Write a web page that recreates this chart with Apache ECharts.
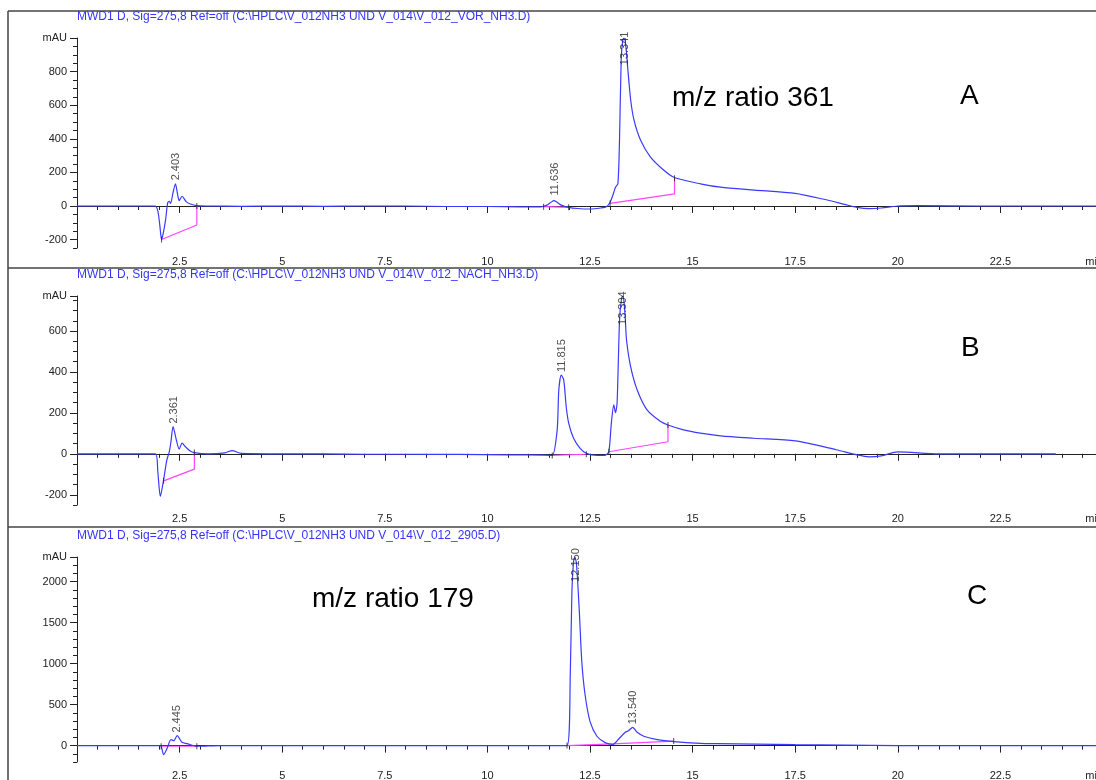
<!DOCTYPE html>
<html>
<head>
<meta charset="utf-8">
<script src="https://cdn.jsdelivr.net/npm/echarts@6/dist/echarts.min.js"></script>
<style>
  html, body { margin: 0; padding: 0; background: #fff; }
  #chart { width: 1096px; height: 780px; }
</style>
</head>
<body>
<div id="chart"></div>
<script>
var chart = echarts.init(document.getElementById('chart'));

// panel titles
var titles = [
  'MWD1 D, Sig=275,8 Ref=off (C:\\HPLC\\V_012NH3 UND V_014\\V_012_VOR_NH3.D)',
  'MWD1 D, Sig=275,8 Ref=off (C:\\HPLC\\V_012NH3 UND V_014\\V_012_NACH_NH3.D)',
  'MWD1 D, Sig=275,8 Ref=off (C:\\HPLC\\V_012NH3 UND V_014\\V_012_2905.D)'
];

// trace A (min, mAU)
var timeA = [0, 1.0, 1.9, 1.97, 2.02, 2.06, 2.10, 2.16, 2.21, 2.25, 2.28, 2.34, 2.40, 2.45, 2.49, 2.56, 2.66, 2.76, 2.92, 3.2, 4.0, 5.0, 6.0, 7.0, 8.0, 9.0, 10.0, 10.8, 11.3, 11.45, 11.55, 11.62, 11.7, 11.8, 11.98, 12.2, 12.5, 12.76, 12.9, 12.99, 13.08, 13.12, 13.18, 13.22, 13.26, 13.30, 13.33, 13.37, 13.42, 13.49, 13.57, 13.73, 13.97, 14.30, 14.57, 15.19, 15.68, 16.5, 17.5, 18.2, 18.7, 19.0, 19.3, 19.6, 20.0, 20.5, 22.0, 25.0];
var valA  = [0, 0, 0, -30, -120, -199, -165, -80, 20, 28, 15, 80, 132, 70, 32, 58, 26, 12, 2, 0, -2, 0, -2, 0, 0, -3, -3, -5, -5, 5, 22, 32, 22, 5, -8, -15, -18, -12, -5, 22, 80, 112, 132, 400, 870, 990, 1000, 960, 820, 634, 514, 393, 293, 213, 168, 132, 112, 95, 75, 40, 10, -8, -16, -12, 0, 2, 0, 0];

// trace B
var timeB = [0, 1.0, 1.91, 1.97, 2.03, 2.11, 2.19, 2.25, 2.29, 2.34, 2.42, 2.49, 2.56, 2.64, 2.75, 2.86, 3.2, 3.6, 3.78, 4.0, 5.0, 6.0, 7.0, 8.0, 9.3, 10.5, 11.4, 11.58, 11.70, 11.74, 11.80, 11.86, 11.92, 11.98, 12.10, 12.26, 12.41, 12.67, 12.88, 12.96, 13.02, 13.08, 13.12, 13.16, 13.22, 13.27, 13.30, 13.33, 13.36, 13.39, 13.49, 13.65, 13.89, 14.22, 14.40, 14.78, 15.19, 15.68, 16.5, 17.5, 18.5, 19.0, 19.3, 19.6, 20.0, 21.0, 22.5, 23.85];
var valB  = [0, 0, 0, -90, -208, -127, -29, 11, 60, 133, 68, 23, 52, 35, 15, 6, 0, 5, 16, 2, 0, 0, -2, -2, -3, -5, -6, -8, 117, 312, 385, 361, 231, 150, 76, 27, 3, -8, -6, 11, 150, 239, 201, 247, 654, 760, 771, 740, 660, 556, 426, 312, 215, 158, 141, 117, 101, 88, 76, 63, 20, -5, -15, -10, 10, 0, 0, 0];

// trace C
var timeC = [0, 1.0, 2.0, 2.05, 2.11, 2.19, 2.29, 2.36, 2.44, 2.56, 2.68, 2.92, 3.5, 5.0, 7.5, 10.0, 11.5, 11.94, 12.02, 12.06, 12.10, 12.13, 12.17, 12.24, 12.30, 12.38, 12.50, 12.67, 12.88, 13.06, 13.20, 13.36, 13.44, 13.54, 13.65, 13.81, 14.14, 14.54, 15.19, 15.60, 17.5, 20.0, 25.0];
var valC  = [0, 0, 0, -5, -110, -40, 73, 60, 122, 40, 24, -8, 0, 0, 0, 0, 0, 0, 884, 1898, 2250, 2300, 2220, 1634, 1026, 620, 296, 114, 33, 16, 81, 162, 182, 223, 162, 114, 73, 49, 28, 24, 12, 0, 0];

// peak labels [time, label anchor (mAU), text]
var peaksA = [[2.403, 135, '2.403'], [11.636, 45, '11.636'], [13.341, 820, '13.341']];
var peaksB = [[2.361, 133, '2.361'], [11.815, 385, '11.815'], [13.304, 615, '13.304']];
var peaksC = [[2.445, 122, '2.445'], [12.150, 1960, '12.150'], [13.540, 223, '13.540']];

// integration baselines
var baseA = [[[2.06, -199], [2.92, -113], [2.92, 0]], [[11.37, -4], [11.98, -8]], [[12.99, 16], [14.56, 72], [14.56, 165]]];
var baseB = [[[2.11, -132], [2.86, -75], [2.86, 6]], [[11.58, -8], [12.41, -2]], [[12.96, 10], [14.40, 59], [14.40, 141]]];
var baseC = [[[2.05, -8], [2.92, -8]], [[11.94, 0], [13.06, 22], [14.54, 55]]];

// axis ranges and tick labels
var timeLabels = [2.5, 5, 7.5, 10, 12.5, 15, 17.5, 20, 22.5, 25];
var yMin = [-250, -250, -200];
var yMax = [1000, 771, 2300];
var yStep = [50, 50, 100];
var yLabelsA = [-200, 0, 200, 400, 600, 800, 1000];
var yLabelsB = [-200, 0, 200, 400, 600, 771];
var yLabelsC = [0, 500, 1000, 1500, 2000, 2300];

var tops = [38, 296, 557];
var heights = [210, 209, 205];

var blue = '#3a3aff';
var magenta = '#ff44ff';
var ink = '#222';
var font = 'Liberation Sans, Arial';

function pairs(t, v) {
  return t.map(function (x, i) { return [x, v[i]]; });
}

var grids = [], xAxes = [], yAxes = [], series = [], titleOpts = [];
var traces = [pairs(timeA, valA), pairs(timeB, valB), pairs(timeC, valC)];
var peaks = [peaksA, peaksB, peaksC];
var bases = [baseA, baseB, baseC];
var yLabels = [yLabelsA, yLabelsB, yLabelsC];

for (var p = 0; p < 3; p++) {
  grids.push({ left: 77, top: tops[p], width: 1026, height: heights[p], containLabel: false, outerBoundsMode: 'none' });
  titleOpts.push({
    text: titles[p], left: 77, top: tops[p] - 27, padding: 0,
    textStyle: { fontSize: 12, fontWeight: 'normal', color: '#3535ff', fontFamily: font }
  });
  // minor ticks
  xAxes.push({
    type: 'value', gridIndex: p, min: 0, max: 25, interval: 0.5,
    axisLine: { lineStyle: { color: ink, width: 1 } },
    axisTick: { length: 4, lineStyle: { color: ink } },
    splitLine: { show: false },
    axisLabel: { show: false }
  });
  yAxes.push({
    type: 'value', gridIndex: p, min: yMin[p], max: yMax[p], interval: yStep[p],
    axisLine: { show: true, lineStyle: { color: ink, width: 1 } },
    axisTick: { show: true, length: 4, lineStyle: { color: ink } },
    splitLine: { show: false },
    axisLabel: { show: false }
  });

  series.push({
    type: 'line', xAxisIndex: p, yAxisIndex: p, data: traces[p],
    showSymbol: false, smooth: 0.25, lineStyle: { color: blue, width: 1.2 }, z: 3
  });
  bases[p].forEach(function (seg) {
    series.push({
      type: 'line', xAxisIndex: p, yAxisIndex: p, data: seg,
      showSymbol: false, lineStyle: { color: magenta, width: 1.2 }, z: 2
    });
    series.push({
      type: 'scatter', xAxisIndex: p, yAxisIndex: p, data: [seg[0], seg[seg.length - 1]],
      symbol: 'rect', symbolSize: [1, 6], itemStyle: { color: ink }, z: 4
    });
  });
  series.push({
    type: 'scatter', xAxisIndex: p, yAxisIndex: p, data: peaks[p],
    symbolSize: 0, z: 5,
    label: {
      show: true, position: 'top', distance: 3, rotate: 90, align: 'left', verticalAlign: 'middle',
      color: ink, fontSize: 11, fontFamily: font,
      formatter: function (d) { return d.data[2]; }
    }
  });
}

// major ticks + labels, drawn on overlay axes
for (var q = 0; q < 3; q++) {
  (function (pi) {
    xAxes.push({
      type: 'value', gridIndex: pi, min: 0, max: 25, position: 'bottom',
      axisLine: { show: false },
      axisTick: { show: true, length: 7, customValues: timeLabels, lineStyle: { color: ink } },
      splitLine: { show: false },
      axisLabel: {
        color: ink, fontSize: 11, fontFamily: font, margin: 8,
        customValues: timeLabels, alignMaxLabel: 'right',
        formatter: function (v) { return v === 25 ? 'min' : String(v); }
      }
    });
    yAxes.push({
      type: 'value', gridIndex: pi, min: yMin[pi], max: yMax[pi], position: 'left',
      axisLine: { show: false },
      axisTick: { show: true, length: 7, customValues: yLabels[pi], lineStyle: { color: ink } },
      splitLine: { show: false },
      axisLabel: {
        color: ink, fontSize: 11, fontFamily: font, margin: 10,
        customValues: yLabels[pi],
        formatter: function (v) { return v === yMax[pi] ? 'mAU' : String(v); }
      }
    });
  })(q);
}

function note(text, x, y) {
  return {
    type: 'text', left: x, top: y,
    style: { text: text, fill: '#000', font: '28px "Liberation Sans", Arial' }
  };
}

chart.setOption({
  animation: false,
  title: titleOpts,
  grid: grids,
  xAxis: xAxes,
  yAxis: yAxes,
  series: series,
  graphic: [
    { type: 'line', shape: { x1: 8, y1: 11, x2: 8, y2: 780 }, style: { stroke: '#444', lineWidth: 1.5 } },
    { type: 'line', shape: { x1: 8, y1: 11, x2: 1096, y2: 11 }, style: { stroke: '#444', lineWidth: 1.5 } },
    { type: 'line', shape: { x1: 8, y1: 268, x2: 1096, y2: 268 }, style: { stroke: '#444', lineWidth: 1.5 } },
    { type: 'line', shape: { x1: 8, y1: 527, x2: 1096, y2: 527 }, style: { stroke: '#444', lineWidth: 1.5 } },
    note('m/z ratio 361', 672, 84),
    note('A', 960, 82),
    note('B', 961, 334),
    note('m/z ratio 179', 312, 585),
    note('C', 967, 582)
  ]
});
</script>
</body>
</html>
